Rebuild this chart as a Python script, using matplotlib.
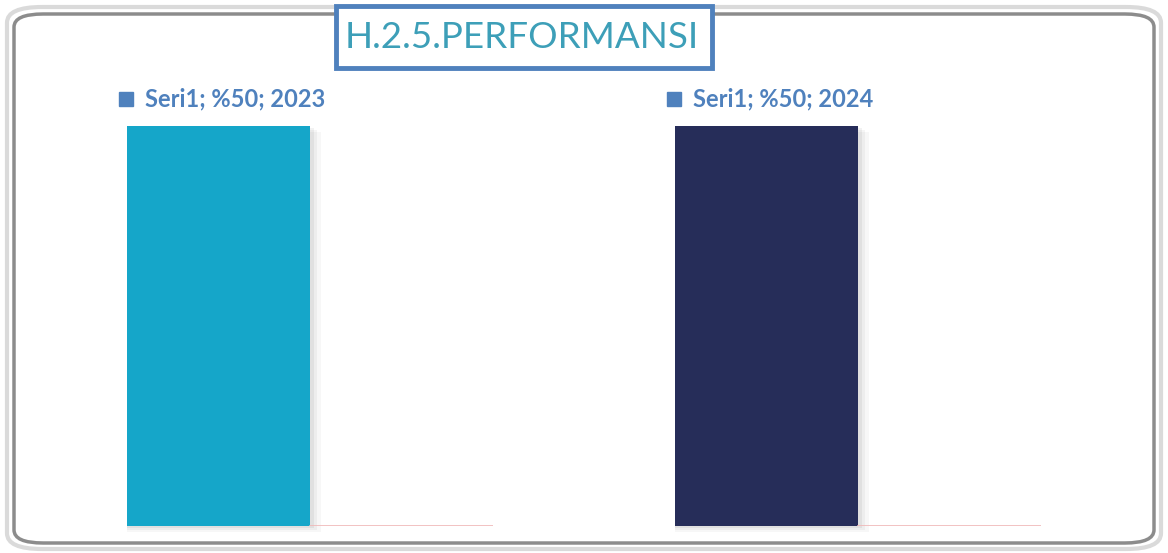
import matplotlib.pyplot as plt
from matplotlib.patches import FancyBboxPatch, Rectangle

# data
years = ["2023", "2024"]
values = [50, 50]
series = "Seri1"
bar_colors = ["#15a6c9", "#262d59"]
title = "H.2.5.PERFORMANSI"

W, H = 1168, 553
fig = plt.figure(figsize=(W / 100, H / 100), dpi=100)
fig.patch.set_facecolor("white")


def fx(px):
    return px / W


def fy(py):
    return 1 - py / H


# outer rounded frame (double grey border)
fig.patches.append(FancyBboxPatch((fx(7), fy(549)), fx(1154), 542 / H,
                                  boxstyle="round,pad=0,rounding_size=0.03",
                                  transform=fig.transFigure, fill=False,
                                  ec="#dadada", lw=3, mutation_aspect=H / W * 2))
fig.patches.append(FancyBboxPatch((fx(14), fy(543)), fx(1140), 529 / H,
                                  boxstyle="round,pad=0,rounding_size=0.025",
                                  transform=fig.transFigure, fill=False,
                                  ec="#8c8c8c", lw=2.5, mutation_aspect=H / W * 2))

# one panel per year
lefts = [127, 675]
for i, (yr, v) in enumerate(zip(years, values)):
    ax = fig.add_axes([fx(lefts[i]), fy(526), fx(366), 400 / H])
    # soft shadow behind bar
    for k, a in enumerate([0.05, 0.04, 0.03]):
        ax.add_patch(Rectangle((-0.5, -0.3 - k * 0.2), 1.0 + 0.02 * (k + 1), v,
                               color="black", alpha=a, lw=0, clip_on=False))
    ax.bar([0], [v], width=1.0, color=bar_colors[i], zorder=3)
    ax.axhline(0, xmin=0.5, color="#f0b8b8", lw=1.2, zorder=4)
    ax.set_xlim(-0.5, 1.5)
    ax.set_ylim(0, 50)
    ax.axis("off")

    # legend entry
    lx = lefts[i] - 8
    fig.patches.append(Rectangle((fx(lx), fy(106)), fx(14), 14 / H,
                                 transform=fig.transFigure, color="#4f81bd"))
    fig.text(fx(lx + 26), fy(99), f"{series}; %{v}; {yr}", fontsize=17,
             fontweight="bold", family="Lato", color="#4f81bd", va="center")

# title box
fig.patches.append(Rectangle((fx(336), fy(68)), fx(376), 62 / H,
                             transform=fig.transFigure, fill=True, fc="white",
                             ec="#4f81bd", lw=3.5))
fig.text(fx(522), fy(38), title, fontsize=26.5, family="Lato",
         color="#3d9fb8", ha="center", va="center")

fig.savefig("out.png", dpi=100)
